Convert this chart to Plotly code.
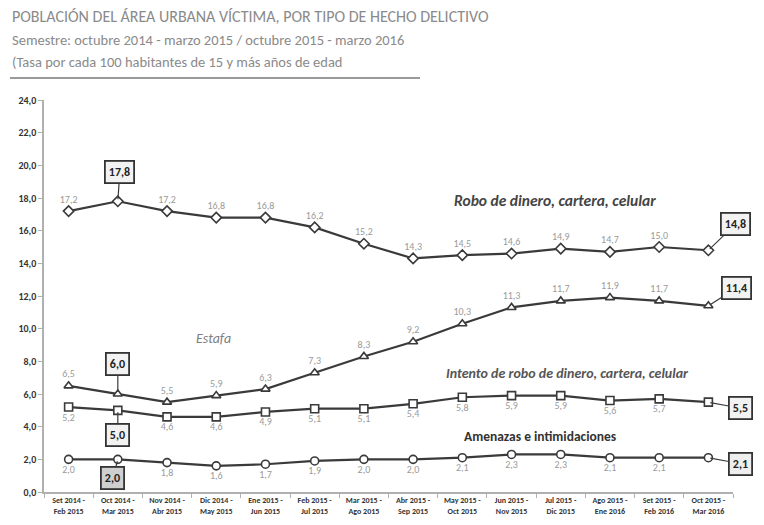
import plotly.graph_objects as go

categories = ["Set 2014 -<br>Feb 2015", "Oct 2014 -<br>Mar 2015", "Nov 2014 -<br>Abr 2015",
              "Dic 2014 -<br>May 2015", "Ene 2015 -<br>Jun 2015", "Feb 2015 -<br>Jul 2015",
              "Mar 2015 -<br>Ago 2015", "Abr 2015 -<br>Sep 2015", "May 2015 -<br>Oct 2015",
              "Jun 2015 -<br>Nov 2015", "Jul 2015 -<br>Dic 2015", "Ago 2015 -<br>Ene 2016",
              "Set 2015 -<br>Feb 2016", "Oct 2015 -<br>Mar 2016"]

robo = [17.2, 17.8, 17.2, 16.8, 16.8, 16.2, 15.2, 14.3, 14.5, 14.6, 14.9, 14.7, 15.0, 14.8]
estafa = [6.5, 6.0, 5.5, 5.9, 6.3, 7.3, 8.3, 9.2, 10.3, 11.3, 11.7, 11.9, 11.7, 11.4]
intento = [5.2, 5.0, 4.6, 4.6, 4.9, 5.1, 5.1, 5.4, 5.8, 5.9, 5.9, 5.6, 5.7, 5.5]
amenazas = [2.0, 2.0, 1.8, 1.6, 1.7, 1.9, 2.0, 2.0, 2.1, 2.3, 2.3, 2.1, 2.1, 2.1]

y_ticks = [0, 2, 4, 6, 8, 10, 12, 14, 16, 18, 20, 22, 24]

FONT = "Carlito, 'Liberation Sans Narrow', 'Arial Narrow', Lato, 'Noto Sans', sans-serif"
LINE = "#3a3a3a"


def fmt(v):
    return f"{v:.1f}".replace(".", ",")


callouts = {"robo": [1, 13], "estafa": [1, 13], "intento": [1, 13], "amenazas": [1, 13]}

series = [
    ("robo", robo, "diamond", "top center"),
    ("estafa", estafa, "triangle-up", "top center"),
    ("intento", intento, "square", "bottom center"),
    ("amenazas", amenazas, "circle", "bottom center"),
]

fig = go.Figure()
for key, vals, sym, tpos in series:
    texts = ["" if i in callouts[key] else fmt(v) for i, v in enumerate(vals)]
    fig.add_trace(go.Scatter(
        x=categories, y=vals, mode="lines+markers+text",
        line=dict(color=LINE, width=2.2),
        marker=dict(symbol=sym, size=8, color="white",
                    line=dict(color=LINE, width=1.6)),
        text=texts, textposition=tpos,
        textfont=dict(family=FONT, size=10, color="#9a9a9a"),
        showlegend=False, cliponaxis=False,
    ))

box_specs = [
    (robo, 1, 2, -29, "#f2f2f2"),
    (robo, 13, 27, -26, "#f2f2f2"),
    (estafa, 13, 28, -18, "#f2f2f2"),
    (estafa, 1, 0, -30, "#f2f2f2"),
    (intento, 1, 0, 25, "#f2f2f2"),
    (intento, 13, 32, 6, "#f2f2f2"),
    (amenazas, 1, -5, 19, "#cfcfcf"),
    (amenazas, 13, 32, 6, "#eeeeee"),
]
for vals, i, ax, ay, bg in box_specs:
    fig.add_annotation(
        x=categories[i], y=vals[i], xref="x", yref="y",
        text=f"<b>{fmt(vals[i])}</b>", showarrow=True, arrowhead=0, arrowwidth=1.2,
        arrowcolor=LINE, ax=ax, ay=ay, standoff=2,
        bgcolor=bg, bordercolor="#333333", borderwidth=1.8, borderpad=3,
        font=dict(family=FONT, size=12, color="#222222"),
    )

L, T, W, H = 44, 100, 689, 392


def px(xp):
    return (xp - L) / W


def py(yp):
    return (T + H - yp) / H


names = [
    ("<b><i>Robo de dinero, cartera, celular</i></b>", 555, 200, "#444444", 15.5),
    ("<i>Estafa</i>", 213, 338, "#808080", 14),
    ("<b><i>Intento de robo de dinero, cartera, celular</i></b>", 567, 373, "#555555", 14),
    ("<b>Amenazas e intimidaciones</b>", 540, 436, "#333333", 13.5),
]
for txt, xp, yp, col, sz in names:
    fig.add_annotation(x=px(xp), y=py(yp), xref="paper", yref="paper", text=txt,
                       xanchor="center", yanchor="middle",
                       showarrow=False, font=dict(family=FONT, size=sz, color=col))

titles = [
    ("POBLACIÓN DEL ÁREA URBANA VÍCTIMA, POR TIPO DE HECHO DELICTIVO", 17, 16),
    ("Semestre: octubre 2014 - marzo 2015 / octubre 2015 - marzo 2016", 40, 14.5),
    ("(Tasa por cada 100 habitantes de 15 y más años de edad", 62, 14.5),
]
for txt, yp, sz in titles:
    fig.add_annotation(x=px(10), y=py(yp), xref="paper", yref="paper", text=txt,
                       xanchor="left", yanchor="middle", showarrow=False,
                       font=dict(family=FONT, size=sz, color="#8a8a8a"))

fig.add_shape(type="line", xref="paper", yref="paper", x0=px(10), x1=px(420),
              y0=py(78), y1=py(78), line=dict(color="#9a9a9a", width=2))

fig.update_layout(
    width=764, height=525,
    margin=dict(l=L, r=764 - L - W, t=T, b=525 - T - H),
    paper_bgcolor="white", plot_bgcolor="white",
    font=dict(family=FONT),
    xaxis=dict(type="category", range=[-0.5, 13.5], showgrid=False, showline=True,
               linecolor="#b0b0b0", linewidth=1.5, ticks="outside", ticklen=4,
               tickcolor="#b0b0b0", tickson="boundaries", tickangle=0, automargin=False,
               tickfont=dict(family=FONT, size=8, color="#333333", weight="bold"),
               fixedrange=True),
    yaxis=dict(range=[0, 24], tickvals=y_ticks, ticktext=[fmt(v) for v in y_ticks],
               showgrid=False, showline=True, linecolor="#b0b0b0", linewidth=1.5,
               ticks="outside", ticklen=4, tickcolor="#b0b0b0", zeroline=False,
               automargin=False,
               tickfont=dict(family=FONT, size=10, color="#333333", weight="bold"),
               fixedrange=True),
)

fig.write_html("out.html")
